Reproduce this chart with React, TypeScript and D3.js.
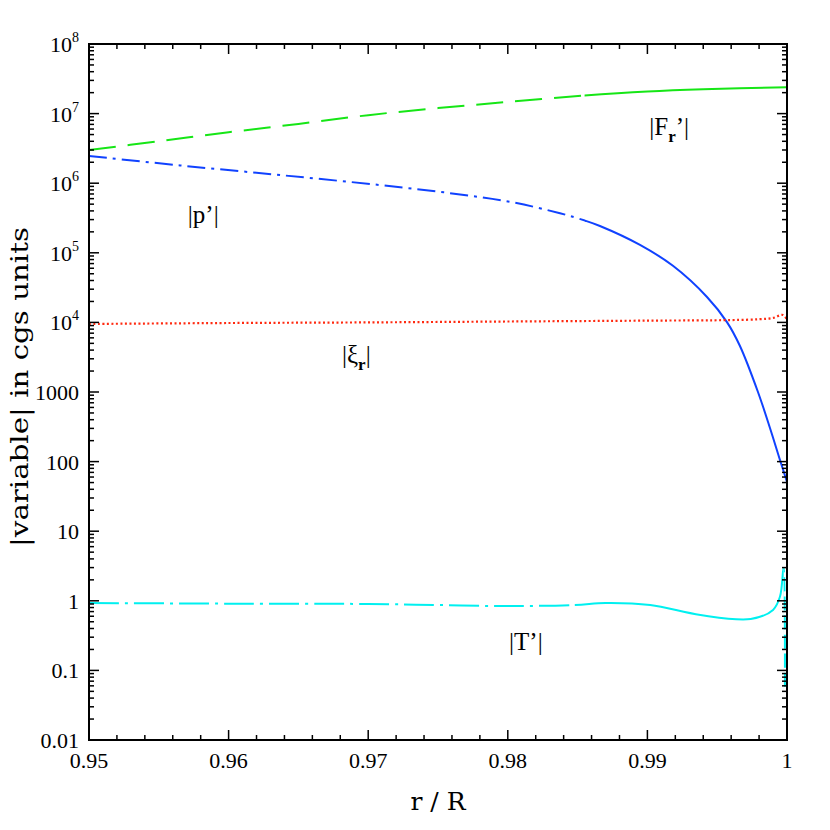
import React from 'react';
import * as d3 from 'd3';

const width = 830;
const height = 830;
const margin = { top: 44, right: 43, bottom: 90, left: 89 };

// r / R sample points and |amplitudes|
const rFlux = [0.95, 0.955, 0.96, 0.965, 0.97, 0.975, 0.98, 0.9855, 0.99, 0.994, 1.0];
const fluxAmp = [3.0e6, 4.0e6, 5.4e6, 7.1e6, 9.5e6, 1.2e7, 1.47e7, 1.82e7, 2.08e7, 2.24e7, 2.39e7];

const rPres = [0.95, 0.95652, 0.96368, 0.97085, 0.97586, 0.98016, 0.98374, 0.98553, 0.9866, 0.98947, 0.99183, 0.99427, 0.9957, 0.99663, 0.99792, 0.99878, 0.9995, 1.0];
const presAmp = [2.46e6, 1.8e6, 1.31e6, 9.4e5, 7.2e5, 5.4e5, 3.7e5, 2.9e5, 2.43e5, 1.3e5, 6.5e4, 2.32e4, 1.01e4, 4.58e3, 1000, 304, 105, 51];

const rXi = [0.95, 0.96, 0.97, 0.98, 0.99, 0.996, 0.998, 0.999, 0.9997, 1.0];
const xiAmp = [9.5e3, 9.8e3, 1.0e4, 1.03e4, 1.06e4, 1.08e4, 1.11e4, 1.16e4, 1.28e4, 1.1e4];

const rTemp = [0.95, 0.96, 0.97, 0.975, 0.98, 0.9848, 0.987, 0.9902, 0.9938, 0.9974, 0.999, 0.9995, 0.99975, 0.99985];
const tempAmp = [0.93, 0.91, 0.9, 0.87, 0.84, 0.87, 0.93, 0.87, 0.625, 0.548, 0.74, 1.15, 2.95, 0.052];

const xTickLabels = ['0.95', '0.96', '0.97', '0.98', '0.99', '1'];
const yTickLabels = ['0.01', '0.1', '1', '10', '100', '1000', '10^4', '10^5', '10^6', '10^7', '10^8'];

// line style pieces along r: [from, to, dasharray or null for solid]
const series = [
  { r: rFlux, v: fluxAmp, color: '#16e616', width: 2, pieces: [[0.95, 0.9855, '27 12'], [0.9855, 1.001, null]] },
  { r: rPres, v: presAmp, color: '#1042ff', width: 2, pieces: [[0.95, 0.98553, '18 6 3 6'], [0.98553, 1.001, null]] },
  { r: rXi, v: xiAmp, color: '#ff2a10', width: 2.2, pieces: [[0.95, 1.001, '2 2.5']] },
  { r: rTemp, v: tempAmp, color: '#00f0f0', width: 2, pieces: [[0.95, 0.9848, '30 6 3 6'], [0.9848, 0.99975, null], [0.99975, 1.001, '14 5']] },
];

const labels = [
  { r: 0.99013, v: 4.93e6, main: '|F', sub: 'r', tail: '’|' },
  { r: 0.95708, v: 2.68e5, main: '|p’|', sub: '', tail: '' },
  { r: 0.96812, v: 2.61e3, main: '|ξ', sub: 'r', tail: '|' },
  { r: 0.98009, v: 0.196, main: '|T’|', sub: '', tail: '' },
];

const serif = '"Liberation Serif", "Times New Roman", serif';

export default function App() {
  const left = margin.left;
  const right = width - margin.right;
  const top = margin.top;
  const bottom = height - margin.bottom;

  const x = d3.scaleLinear().domain([0.95, 1]).range([left, right]);
  const y = d3.scaleLog().domain([0.01, 1e8]).range([bottom, top]);

  const line = d3
    .line<[number, number]>()
    .x((d) => x(d[0]))
    .y((d) => y(d[1]))
    .curve(d3.curveCatmullRom.alpha(0.5));

  const yMajor = d3.range(-2, 9).map((k) => Math.pow(10, k));
  const yMinor = d3.range(-2, 8).flatMap((k) => d3.range(2, 10).map((m) => m * Math.pow(10, k)));
  const xMajor = d3.range(0, 6).map((i) => 0.95 + i * 0.01);
  const xMinor = d3.range(0, 26).filter((i) => i % 5 !== 0).map((i) => 0.95 + i * 0.002);

  const major = 10;
  const minor = 5;

  return (
    <svg width={width} height={height} style={{ position: 'absolute', left: 0, top: 0, background: '#fff' }}>
      <defs>
        {series.map((s, si) =>
          s.pieces.map(([a, b], pi) => {
            const x0 = a === 0.95 ? left - 5 : x(a as number);
            const x1 = x(b as number);
            return (
              <clipPath key={`c${si}-${pi}`} id={`clip-${si}-${pi}`}>
                <rect x={x0} y={0} width={x1 - x0} height={height} />
              </clipPath>
            );
          })
        )}
      </defs>

      {/* curves */}
      {series.map((s, si) => {
        const pts: [number, number][] = s.r.map((r, i) => [r, s.v[i]]);
        const d = line(pts) || '';
        return s.pieces.map(([, , dash], pi) => (
          <path
            key={`${si}-${pi}`}
            d={d}
            clipPath={`url(#clip-${si}-${pi})`}
            fill="none"
            stroke={s.color}
            strokeWidth={s.width}
            strokeDasharray={(dash as string) || undefined}
          />
        ));
      })}

      {/* ticks */}
      <g stroke="#000" strokeWidth={1.5}>
        {yMajor.map((v) => (
          <g key={`ym${v}`}>
            <line x1={left} x2={left + major} y1={y(v)} y2={y(v)} />
            <line x1={right} x2={right - major} y1={y(v)} y2={y(v)} />
          </g>
        ))}
        {yMinor.map((v) => (
          <g key={`yn${v}`}>
            <line x1={left} x2={left + minor} y1={y(v)} y2={y(v)} />
            <line x1={right} x2={right - minor} y1={y(v)} y2={y(v)} />
          </g>
        ))}
        {xMajor.map((v) => (
          <g key={`xm${v}`}>
            <line x1={x(v)} x2={x(v)} y1={bottom} y2={bottom - major} />
            <line x1={x(v)} x2={x(v)} y1={top} y2={top + major} />
          </g>
        ))}
        {xMinor.map((v) => (
          <g key={`xn${v}`}>
            <line x1={x(v)} x2={x(v)} y1={bottom} y2={bottom - minor} />
            <line x1={x(v)} x2={x(v)} y1={top} y2={top + minor} />
          </g>
        ))}
      </g>
      <rect x={left} y={top} width={right - left} height={bottom - top} fill="none" stroke="#000" strokeWidth={2} />

      {/* tick labels */}
      <g fontFamily={serif} fontSize={22} fill="#000">
        {xMajor.map((v, i) => (
          <text key={`xl${i}`} x={x(v)} y={bottom + 28} textAnchor="middle">
            {xTickLabels[i]}
          </text>
        ))}
        {yMajor.map((v, i) => {
          const [base, exp] = yTickLabels[i].split('^');
          return (
            <text key={`yl${i}`} x={left - 10} y={y(v) + 8} textAnchor="end">
              {base}
              {exp && (
                <tspan dy={-10} fontSize={14}>
                  {exp}
                </tspan>
              )}
            </text>
          );
        })}
      </g>

      {/* axis titles */}
      <text
        x={(left + right) / 2}
        y={810}
        textAnchor="middle"
        fontFamily='"DejaVu Serif", serif'
        fontSize={25}
      >
        r / R
      </text>
      <text
        transform={`translate(28, 387) rotate(-90)`}
        textAnchor="middle"
        fontFamily='"DejaVu Serif", serif'
        fontSize={24}
        textLength={320}
        lengthAdjust="spacingAndGlyphs"
      >
        |variable| in cgs units
      </text>

      {/* curve labels */}
      <g fontFamily={serif} fontSize={25} fill="#000">
        {labels.map((l, i) => (
          <text key={`lab${i}`} x={x(l.r)} y={y(l.v)}>
            {l.main}
            {l.sub && (
              <tspan dy={7} fontSize={17} fontWeight="bold">
                {l.sub}
              </tspan>
            )}
            {l.tail && <tspan dy={l.sub ? -7 : 0}>{l.tail}</tspan>}
          </text>
        ))}
      </g>
    </svg>
  );
}
